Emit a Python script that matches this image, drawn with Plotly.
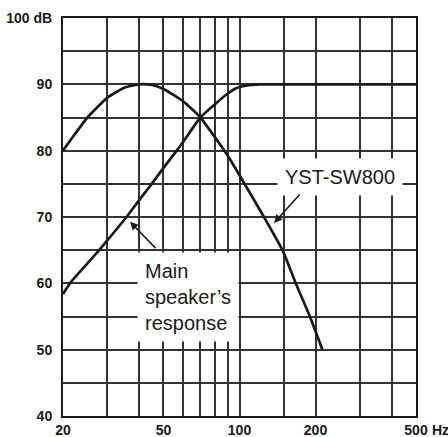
import math
import plotly.graph_objects as go

# subwoofer response (YST-SW800)
sub_freq = [20, 22, 25, 30, 35, 40, 45, 50, 60, 70, 80, 90, 100, 125, 148, 167, 190, 213]
sub_db = [80, 82.2, 85, 88, 89.5, 90, 89.9, 89.3, 87.4, 85, 82, 79.2, 76.3, 70, 65, 60, 55, 50]

# main speaker response
main_freq = [20, 21.3, 25, 27.8, 30, 35.7, 40, 44.9, 50, 56.4, 60, 70, 80, 87, 97, 110, 120, 150, 200, 300, 500]
main_db = [58.4, 60, 63, 65, 66.5, 70, 72.5, 75, 77.4, 80, 81.4, 85, 87.0, 88.2, 89.4, 89.9, 90, 90, 90, 90, 90]

# grid / tick labels
x_ticks = [20, 30, 40, 50, 60, 70, 80, 90, 100, 150, 200, 300, 400, 500]
x_labels = ["20", "", "", "50", "", "", "", "", "100", "", "200", "", "", "500"]
y_ticks = [40, 45, 50, 55, 60, 65, 70, 75, 80, 85, 90, 95, 100]
y_labels = ["40", "", "50", "", "60", "", "70", "", "80", "", "90", "", "100 dB"]

ink = "#1a1a1a"
lg = math.log10

fig = go.Figure()
fig.add_trace(go.Scatter(x=sub_freq, y=sub_db, mode="lines",
                         line=dict(color=ink, width=2.7, shape="spline", smoothing=0.5)))
fig.add_trace(go.Scatter(x=main_freq, y=main_db, mode="lines",
                         line=dict(color=ink, width=2.7, shape="spline", smoothing=0.5)))

tick_font = dict(family="Liberation Sans", size=14, color=ink, weight="bold")
txt_font = dict(family="Liberation Sans", size=20, color=ink)

fig.update_xaxes(type="log", range=[lg(20), lg(500)], tickvals=x_ticks, ticktext=x_labels,
                 showgrid=True, gridcolor="#333333", gridwidth=2, ticks="", tickfont=tick_font,
                 showline=True, linecolor=ink, linewidth=2, mirror=True, zeroline=False,
                 ticklabelstandoff=0, automargin=False)
fig.update_yaxes(range=[40, 100], tickvals=y_ticks, ticktext=y_labels,
                 showgrid=True, gridcolor="#333333", gridwidth=2, ticks="", tickfont=tick_font,
                 showline=True, linecolor=ink, linewidth=2, mirror=True, zeroline=False,
                 ticklabelstandoff=6, automargin=False)

# labels
fig.add_annotation(x=lg(250), y=76.1, text="YST-SW800", showarrow=False, font=txt_font,
                   bgcolor="white", borderpad=7)
fig.add_annotation(x=lg(62.3), y=57.9, text="Main<br>speaker’s<br>response", showarrow=False,
                   font=txt_font, align="left", bgcolor="white", borderpad=7)
# arrows
fig.add_annotation(x=2.1366, y=69.1, text="", showarrow=True, ax=27, ay=-30,
                   arrowhead=2, arrowsize=1.1, arrowwidth=1.5, arrowcolor=ink)
fig.add_annotation(x=1.5664, y=69.3, text="", showarrow=True, ax=27, ay=28,
                   arrowhead=2, arrowsize=1.1, arrowwidth=1.5, arrowcolor=ink)
# unit after last frequency label
fig.add_annotation(x=lg(500), y=0, xref="x", yref="paper", text="Hz", showarrow=False,
                   xanchor="left", yanchor="top", xshift=14, yshift=-4, font=tick_font)

fig.update_layout(width=448, height=437, showlegend=False,
                  margin=dict(l=63, r=32, t=18, b=21),
                  paper_bgcolor="white", plot_bgcolor="white")

# page body has a default margin, drop it so the figure fills the window
fig.write_html("out.html", config={"displayModeBar": False},
               post_script="document.body.style.margin='0';")
